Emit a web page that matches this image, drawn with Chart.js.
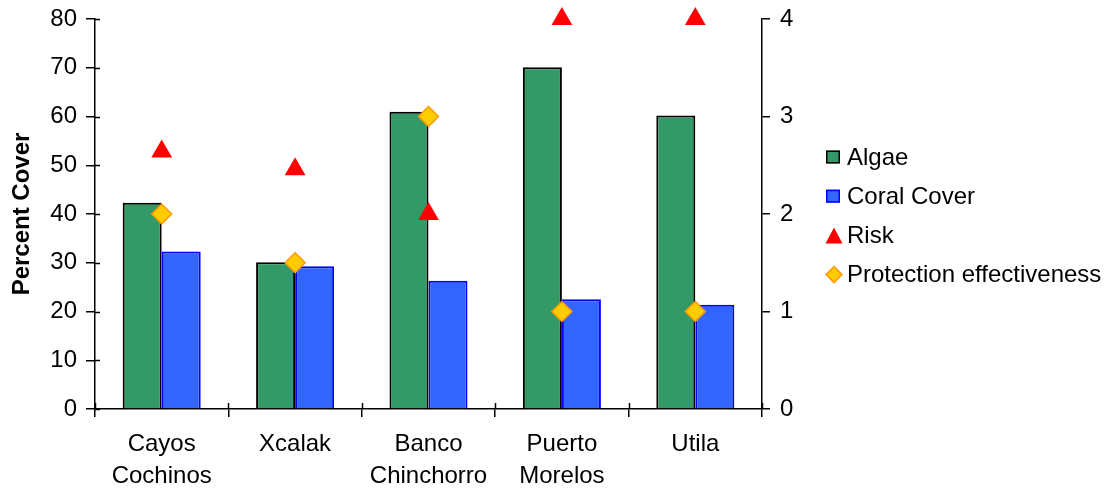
<!DOCTYPE html>
<html>
<head>
<meta charset="utf-8">
<script src="https://cdn.jsdelivr.net/npm/chart.js@4/dist/chart.umd.min.js"></script>
<style>
  html, body { margin: 0; padding: 0; background: #fff; }
  #wrap { width: 1107px; height: 491px; }
</style>
</head>
<body>
<div id="wrap"><canvas id="c" width="1107" height="491"></canvas></div>
<script>
// Reef sites
const sites = [["Cayos", "Cochinos"], "Xcalak", ["Banco", "Chinchorro"], ["Puerto", "Morelos"], "Utila"];
// Percent cover (left axis)
const algae = [42.3, 30.1, 61.0, 70.1, 60.2];
const coralCover = [32.3, 29.3, 26.3, 22.5, 21.4];
// Index scores (right axis, 0-4)
const risk = [2.64, 2.46, 2.0, 4.0, 4.0];
const protection = [2.0, 1.5, 3.0, 1.0, 1.0];

const FONT = "'Liberation Sans', Arial, sans-serif";
const FS = 24;

// Draws the inner half of the cross-style ticks on the left and bottom axes
const crossTicks = {
  id: 'crossTicks',
  afterDatasetsDraw(chart) {
    const { ctx, scales } = chart;
    ctx.save();
    ctx.strokeStyle = '#000';
    ctx.lineWidth = 1.5;
    const y = scales.y, x = scales.x;
    y.ticks.forEach((t, i) => {
      const py = Math.round(y.getPixelForTick(i)) + 0.5;
      ctx.beginPath(); ctx.moveTo(y.right, py); ctx.lineTo(y.right + 5, py); ctx.stroke();
    });
    const n = x.ticks.length;
    for (let i = 0; i <= n; i++) {
      const px = Math.round(x.left + (x.right - x.left) * i / n) + 0.5;
      ctx.beginPath(); ctx.moveTo(px, x.top); ctx.lineTo(px, x.top - 6); ctx.stroke();
    }
    ctx.restore();
  }
};

// Legend column to the right of the plot
const sideLegend = {
  id: 'sideLegend',
  afterDraw(chart) {
    const { ctx, chartArea } = chart;
    const x0 = chartArea.right + 64;
    const y0 = 157, step = 39.2;
    ctx.save();
    ctx.font = FS + 'px ' + FONT;
    ctx.textBaseline = 'middle';
    chart.data.datasets.forEach((ds, i) => {
      const cy = y0 + i * step;
      if (ds.type === 'bar') {
        ctx.fillStyle = ds.backgroundColor;
        ctx.fillRect(x0, cy - 6.5, 14, 13);
        ctx.strokeStyle = ds.borderColor;
        ctx.lineWidth = 1.5;
        ctx.strokeRect(x0 + 0.75, cy - 5.75, 12.5, 11.5);
      } else {
        ctx.fillStyle = ds.pointBackgroundColor;
        ctx.strokeStyle = ds.pointBorderColor;
        ctx.lineWidth = ds.pointBorderWidth;
        ctx.beginPath();
        if (ds.pointStyle === 'triangle') {
          ctx.moveTo(x0 + 8, cy - 8); ctx.lineTo(x0 + 16.5, cy + 8); ctx.lineTo(x0 - 0.5, cy + 8);
        } else {
          ctx.moveTo(x0 + 8, cy - 8); ctx.lineTo(x0 + 16, cy); ctx.lineTo(x0 + 8, cy + 8); ctx.lineTo(x0, cy);
        }
        ctx.closePath();
        ctx.fill();
        if (ds.pointBorderWidth) ctx.stroke();
      }
      ctx.fillStyle = '#000';
      ctx.fillText(ds.label, x0 + 21, cy + 1);
    });
    ctx.restore();
  }
};

// Keep the vertical axes from reserving extra room for half-height tick labels
function fitVertical(width) {
  return function (s) {
    s.width = width;
    s.paddingTop = 0;
    s.paddingBottom = 0;
  };
}

new Chart(document.getElementById('c'), {
  data: {
    labels: sites,
    datasets: [
      { type: 'bar', label: 'Algae', data: algae, yAxisID: 'y',
        backgroundColor: '#339966', borderColor: '#000000', borderWidth: 2,
        categoryPercentage: 0.585, barPercentage: 1.0, order: 2 },
      { type: 'bar', label: 'Coral Cover', data: coralCover, yAxisID: 'y',
        backgroundColor: '#3366FF', borderColor: '#0000FF', borderWidth: 2,
        categoryPercentage: 0.585, barPercentage: 1.0, order: 2 },
      { type: 'line', label: 'Risk', data: risk, yAxisID: 'y2', showLine: false, clip: false,
        pointStyle: 'triangle', pointRadius: 12, pointHoverRadius: 12,
        pointBackgroundColor: '#FF0000', pointBorderColor: '#FF0000', pointBorderWidth: 0, order: 1 },
      { type: 'line', label: 'Protection effectiveness', data: protection, yAxisID: 'y2', showLine: false, clip: false,
        pointStyle: 'rectRot', pointRadius: 10, pointHoverRadius: 10,
        pointBackgroundColor: '#FFCC00', pointBorderColor: '#FF9900', pointBorderWidth: 1.5, order: 0 }
    ]
  },
  options: {
    responsive: false,
    animation: false,
    events: [],
    layout: { padding: { top: 19, right: 285, bottom: 0, left: 0 } },
    plugins: { legend: { display: false }, tooltip: { enabled: false } },
    scales: {
      x: {
        offset: true,
        grid: { display: true, drawOnChartArea: false, offset: true, tickLength: 8, color: '#000', lineWidth: 1.5 },
        border: { display: true, color: '#000', width: 1.5 },
        ticks: { color: '#000', padding: 11, maxRotation: 0, autoSkip: false,
                 font: { family: FONT, size: FS, lineHeight: 1.34 } },
        afterFit(s) { s.height = 82; s.paddingLeft = 0; s.paddingRight = 0; }
      },
      y: {
        position: 'left', min: 0, max: 80,
        grid: { drawOnChartArea: false, tickLength: 9, color: '#000', lineWidth: 1.5 },
        border: { display: true, color: '#000', width: 1.5 },
        ticks: { stepSize: 10, color: '#000', padding: 9, font: { family: FONT, size: FS } },
        title: { display: true, text: 'Percent Cover', color: '#000', padding: { top: 8, bottom: 0 },
                 font: { family: FONT, size: FS, weight: 'bold' } },
        afterFit: fitVertical(95)
      },
      y2: {
        position: 'right', min: 0, max: 4,
        grid: { drawOnChartArea: false, tickLength: 8, color: '#000', lineWidth: 1.5 },
        border: { display: true, color: '#000', width: 1.5 },
        ticks: { stepSize: 1, color: '#000', padding: 10, font: { family: FONT, size: FS } },
        afterFit: fitVertical(60)
      }
    }
  },
  plugins: [crossTicks, sideLegend]
});
</script>
</body>
</html>
